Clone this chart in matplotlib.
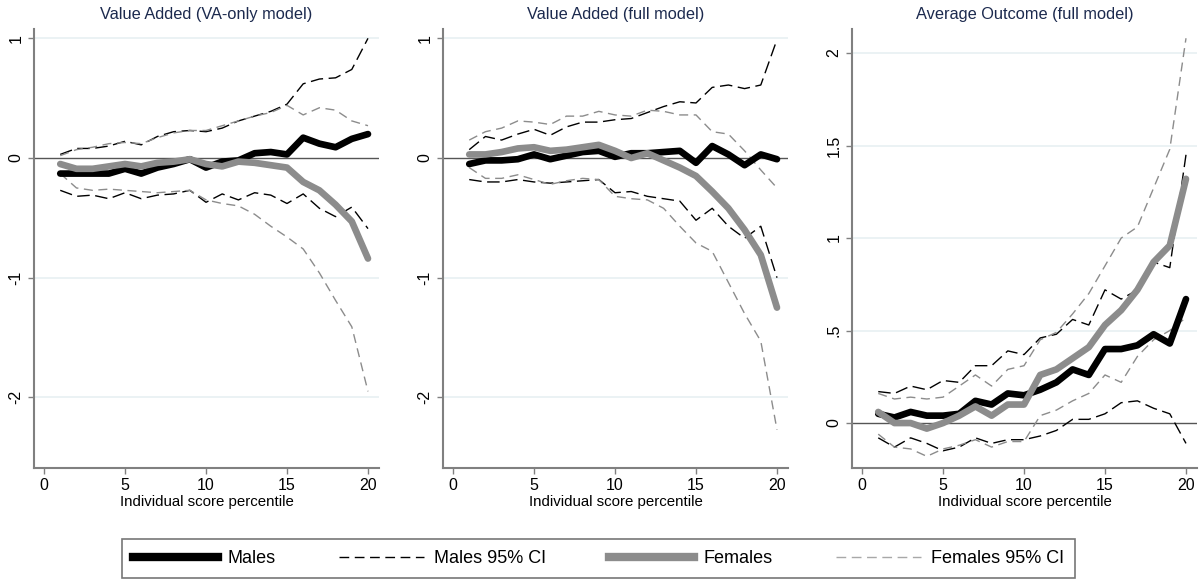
import numpy as np
import matplotlib.pyplot as plt
from matplotlib.lines import Line2D

plt.rcParams['font.family'] = ['Liberation Sans', 'DejaVu Sans']

pct = np.arange(1, 21)

# Value Added (VA-only model)
va_m = [-0.13, -0.13, -0.13, -0.13, -0.09, -0.13, -0.08, -0.05, -0.01, -0.08,
        -0.03, -0.02, 0.04, 0.05, 0.03, 0.17, 0.12, 0.09, 0.16, 0.20]
va_m_hi = [0.03, 0.08, 0.08, 0.10, 0.14, 0.11, 0.18, 0.22, 0.23, 0.22,
           0.25, 0.31, 0.35, 0.39, 0.45, 0.62, 0.66, 0.67, 0.74, 1.00]
va_m_lo = [-0.27, -0.32, -0.31, -0.34, -0.29, -0.34, -0.31, -0.30, -0.27, -0.37,
           -0.30, -0.35, -0.29, -0.31, -0.38, -0.30, -0.42, -0.49, -0.41, -0.59]
va_f = [-0.05, -0.09, -0.09, -0.07, -0.05, -0.07, -0.04, -0.03, -0.01, -0.05,
        -0.07, -0.03, -0.04, -0.06, -0.08, -0.20, -0.27, -0.39, -0.53, -0.84]
va_f_hi = [0.02, 0.07, 0.09, 0.12, 0.13, 0.12, 0.17, 0.21, 0.23, 0.23,
           0.27, 0.31, 0.35, 0.38, 0.44, 0.36, 0.42, 0.40, 0.31, 0.27]
va_f_lo = [-0.13, -0.25, -0.27, -0.26, -0.27, -0.28, -0.29, -0.28, -0.27, -0.35,
           -0.38, -0.40, -0.47, -0.57, -0.66, -0.76, -0.96, -1.19, -1.41, -1.95]

# Value Added (full model)
full_m = [-0.05, -0.02, -0.02, -0.01, 0.03, -0.01, 0.02, 0.05, 0.06, 0.01,
          0.04, 0.04, 0.05, 0.06, -0.04, 0.10, 0.03, -0.06, 0.03, -0.01]
full_m_hi = [0.07, 0.18, 0.15, 0.20, 0.24, 0.19, 0.26, 0.30, 0.30, 0.32,
             0.33, 0.38, 0.43, 0.47, 0.46, 0.59, 0.61, 0.58, 0.61, 0.99]
full_m_lo = [-0.18, -0.20, -0.20, -0.18, -0.20, -0.21, -0.20, -0.19, -0.18, -0.29,
             -0.28, -0.32, -0.34, -0.36, -0.52, -0.42, -0.57, -0.67, -0.57, -1.00]
full_f = [0.03, 0.03, 0.05, 0.08, 0.09, 0.06, 0.07, 0.09, 0.11, 0.06,
          0.00, 0.04, -0.02, -0.08, -0.15, -0.28, -0.42, -0.60, -0.81, -1.25]
full_f_hi = [0.15, 0.22, 0.25, 0.31, 0.30, 0.28, 0.35, 0.35, 0.39, 0.36,
             0.35, 0.40, 0.39, 0.36, 0.36, 0.22, 0.20, 0.06, -0.10, -0.25]
full_f_lo = [-0.08, -0.17, -0.17, -0.14, -0.18, -0.22, -0.19, -0.17, -0.18, -0.32,
             -0.34, -0.35, -0.42, -0.57, -0.71, -0.78, -1.04, -1.30, -1.53, -2.27]

# Average Outcome (full model)
avg_m = [0.05, 0.03, 0.06, 0.04, 0.04, 0.05, 0.12, 0.10, 0.16, 0.15,
         0.18, 0.22, 0.29, 0.26, 0.40, 0.40, 0.42, 0.48, 0.43, 0.67]
avg_m_hi = [0.17, 0.16, 0.20, 0.18, 0.23, 0.22, 0.31, 0.31, 0.39, 0.37,
            0.46, 0.48, 0.56, 0.53, 0.72, 0.67, 0.72, 0.87, 0.84, 1.45]
avg_m_lo = [-0.08, -0.13, -0.08, -0.11, -0.15, -0.13, -0.08, -0.11, -0.09, -0.09,
            -0.07, -0.04, 0.02, 0.02, 0.05, 0.11, 0.12, 0.08, 0.05, -0.11]
avg_f = [0.06, 0.00, 0.00, -0.03, 0.00, 0.04, 0.09, 0.04, 0.10, 0.10,
         0.26, 0.29, 0.35, 0.41, 0.53, 0.61, 0.72, 0.87, 0.96, 1.32]
avg_f_hi = [0.16, 0.13, 0.14, 0.13, 0.14, 0.20, 0.26, 0.20, 0.29, 0.31,
            0.45, 0.49, 0.59, 0.70, 0.85, 1.00, 1.06, 1.27, 1.48, 2.08]
avg_f_lo = [-0.06, -0.13, -0.14, -0.18, -0.14, -0.12, -0.09, -0.13, -0.10, -0.10,
            0.04, 0.07, 0.12, 0.16, 0.26, 0.22, 0.36, 0.45, 0.50, 0.57]

panels = [
    ("Value Added (VA-only model)", va_m, va_m_lo, va_m_hi, va_f, va_f_lo, va_f_hi),
    ("Value Added (full model)", full_m, full_m_lo, full_m_hi, full_f, full_f_lo, full_f_hi),
    ("Average Outcome (full model)", avg_m, avg_m_lo, avg_m_hi, avg_f, avg_f_lo, avg_f_hi),
]

W, H = 1202, 579
fig = plt.figure(figsize=(W / 100, H / 100), dpi=100)
fig.patch.set_facecolor('white')

lefts = [34, 443, 852]
top, bottom, width = 29, 468, 345
axis_col = '#808080'
grid_col = '#e8f0f2'
title_col = '#1c2a4e'
gray = '#8c8c8c'
black_dash = (0, (9, 4))
gray_dash = (0, (6.5, 4))

for i, (title, m, m_lo, m_hi, f, f_lo, f_hi) in enumerate(panels):
    ax = fig.add_axes([lefts[i] / W, 1 - bottom / H, width / W, (bottom - top) / H])
    ax.plot(pct, m_hi, color='black', lw=1.0, ls=black_dash, zorder=3)
    ax.plot(pct, m_lo, color='black', lw=1.0, ls=black_dash, zorder=3)
    ax.plot(pct, f_hi, color=gray, lw=1.0, ls=gray_dash, zorder=3)
    ax.plot(pct, f_lo, color=gray, lw=1.0, ls=gray_dash, zorder=3)
    ax.plot(pct, m, color='black', lw=4.8, solid_capstyle='round', zorder=4)
    ax.plot(pct, f, color=gray, lw=4.8, solid_capstyle='round', zorder=5)
    ax.axhline(0, color='#555555', lw=1.0, zorder=2)

    ax.set_xlim(-0.62, 20.68)
    ax.set_xticks([0, 5, 10, 15, 20])
    if i < 2:
        ax.set_ylim(-2.59, 1.078)
        yt = [-2, -1, 0, 1]
        ax.set_yticks(yt)
        ax.set_yticklabels(['-2', '-1', '0', '1'])
    else:
        ax.set_ylim(-0.243, 2.13)
        yt = [0, 0.5, 1, 1.5, 2]
        ax.set_yticks(yt)
        ax.set_yticklabels(['0', '.5', '1', '1.5', '2'])
    for v in yt:
        if v != 0:
            ax.axhline(v, color=grid_col, lw=1.2, zorder=1)

    for s in ['top', 'right']:
        ax.spines[s].set_visible(False)
    for s in ['left', 'bottom']:
        ax.spines[s].set_color(axis_col)
        ax.spines[s].set_linewidth(1.5)
    ax.tick_params(axis='both', color=axis_col, length=4, width=1,
                   labelsize=11.5, labelcolor='black')
    plt.setp(ax.get_yticklabels(), rotation=90, va='center')
    ax.set_xlabel("Individual score percentile", fontsize=10.8, labelpad=1)
    ax.set_title(title, fontsize=11.8, color=title_col, pad=7)

handles = [
    Line2D([], [], color='black', lw=6),
    Line2D([], [], color='black', lw=1.0, ls=(0, (7, 4))),
    Line2D([], [], color=gray, lw=6),
    Line2D([], [], color='#a8a8a8', lw=1.0, ls=(0, (7, 4))),
]
labels = ["Males", "Males 95% CI", "Females", "Females 95% CI"]
leg = fig.legend(handles, labels, ncol=4, loc='upper center',
                 bbox_to_anchor=((124 + 1073) / 2 / W, 1 - 539 / H),
                 fontsize=13, handlelength=4.7, handletextpad=0.55,
                 columnspacing=3.5, borderpad=0.6,
                 frameon=True, fancybox=False, borderaxespad=0)
leg.get_frame().set_edgecolor('#555555')
leg.get_frame().set_linewidth(1.2)

fig.savefig('out.png', dpi=100, facecolor='white')
